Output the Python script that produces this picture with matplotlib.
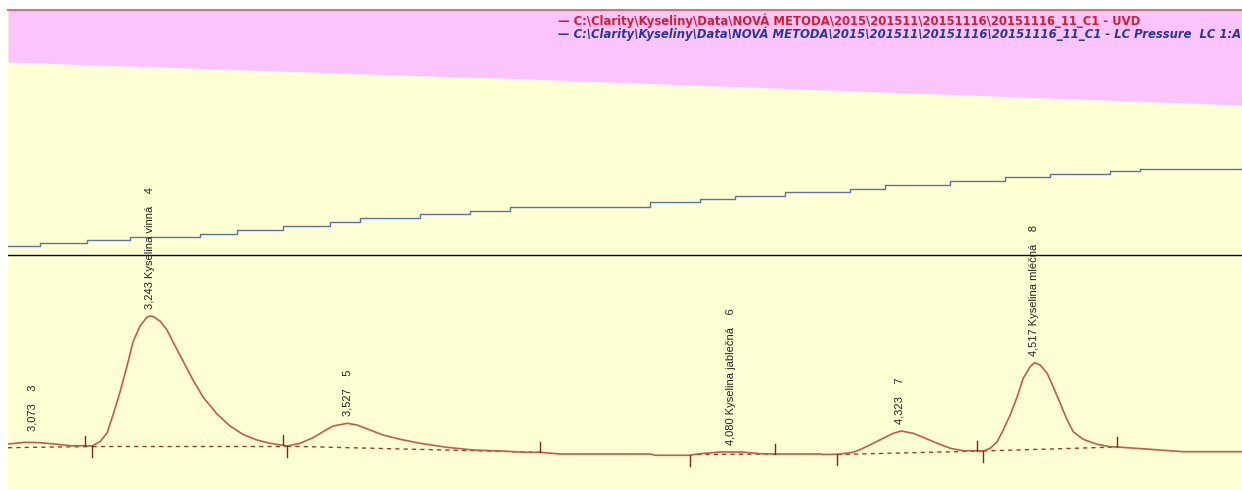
import matplotlib.pyplot as plt

# --- detector trace (UVD), time in min, signal in mV ---
uvd_time = [3.038, 3.0625, 3.0841, 3.1057, 3.1273, 3.149, 3.1591, 3.1706, 3.1807, 3.1893,
            3.1994, 3.2095, 3.2181, 3.2282, 3.2383, 3.243, 3.247, 3.257, 3.2671, 3.2758,
            3.2902, 3.3046, 3.319, 3.3392, 3.3579, 3.3767, 3.3968, 3.4156, 3.4343, 3.4401,
            3.4588, 3.4775, 3.4919, 3.5064, 3.527, 3.5409, 3.5597, 3.5784, 3.6029, 3.6317,
            3.6706, 3.7081, 3.747, 3.7859, 3.8047, 3.8335, 3.9632, 3.9704, 4.0208, 4.0309,
            4.0641, 4.0958, 4.1217, 4.1433, 4.2082, 4.2125, 4.2327, 4.2557, 4.2701, 4.2846,
            4.299, 4.3134, 4.325, 4.3422, 4.3566, 4.3768, 4.3955, 4.4143, 4.4344, 4.4431,
            4.4532, 4.4633, 4.4719, 4.482, 4.4921, 4.5007, 4.5108, 4.517, 4.5252, 4.5353,
            4.5439, 4.554, 4.5641, 4.5728, 4.5872, 4.6074, 4.6261, 4.6362, 4.6837, 4.7313,
            4.816]
uvd_signal = [4.0, 5.7, 5.3, 4.0, 2.3, 2.3, 2.0, 6.3, 15.0, 33.0,
              56.0, 82.0, 106.0, 122.0, 131.0, 132.0, 131.5, 127.0, 118.0, 106.0,
              87.0, 68.0, 51.0, 34.0, 22.0, 13.5, 8.0, 4.7, 2.7, 2.0,
              4.7, 10.3, 16.3, 22.0, 24.7, 23.0, 18.0, 13.0, 8.7, 4.7,
              0.7, -2.0, -3.0, -4.3, -4.3, -6.0, -6.0, -7.3, -7.3, -6.0,
              -4.0, -4.0, -5.7, -6.0, -6.0, -6.5, -6.3, -4.3, -0.3, 4.7,
              9.7, 14.7, 17.0, 14.7, 10.7, 4.7, -0.3, -2.7, -2.7, -3.0,
              -0.3, 6.3, 18.0, 33.0, 51.3, 69.7, 81.3, 85.3, 83.0, 74.7,
              61.3, 44.7, 28.0, 16.3, 8.7, 3.7, 1.3, 1.0, -1.3, -3.7,
              -3.7]

# --- LC pressure trace (stepped) ---
pres_time = [3.038, 3.0841, 3.1518, 3.2138, 3.3147, 3.368, 3.4343, 3.502, 3.5453, 3.6317,
             3.7038, 3.7614, 3.7758, 3.9632, 4.0352, 4.0857, 4.1577, 4.2514, 4.3018, 4.3955,
             4.4748, 4.5396, 4.6261, 4.6693, 4.816]
pres_value = [202.3, 204.7, 208.0, 210.7, 213.7, 218.0, 222.0, 225.7, 229.7, 234.0,
              237.5, 240.7, 241.3, 245.7, 248.7, 252.3, 255.7, 259.0, 263.0, 267.0,
              270.7, 274.0, 277.0, 279.3, 280.0]

# --- gradient boundary (pink area) ---
grad_time = [3.038, 3.603, 3.747, 4.816]
grad_value = [386.0, 373.0, 370.0, 343.0]

zero_line = 193.0

# --- integration baselines (start, end) ---
base_t0 = [3.038, 3.159, 3.440, 4.031, 4.233, 4.443]
base_y0 = [0.3, 1.8, 1.8, -6.5, -6.5, -3.0]
base_t1 = [3.159, 3.440, 3.805, 4.143, 4.443, 4.636]
base_y1 = [1.5, 1.8, -4.3, -6.0, -3.0, 1.0]

# --- peak start/end markers ---
mark_time = [3.149, 3.159, 3.434, 3.440, 3.805, 4.021, 4.143, 4.233, 4.434, 4.443, 4.636]
mark_level = [2.3, 2.0, 2.7, 2.0, -4.3, -7.3, -6.0, -6.3, -2.7, -3.0, 1.0]
mark_up = [True, False, True, False, True, False, True, False, True, False, True]

# --- peak labels ---
peak_time = [3.073, 3.243, 3.527, 4.080, 4.323, 4.517]
peak_height = [10.0, 132.0, 24.7, -4.0, 17.0, 85.3]
peak_name = ['', 'Kyselina vinná', '', 'Kyselina jablečná', '', 'Kyselina mléčná']
peak_no = [3, 4, 5, 6, 7, 8]

legend_uvd = '— C:\\Clarity\\Kyseliny\\Data\\NOVÁ METODA\\2015\\201511\\20151116\\20151116_11_C1 - UVD'
legend_pres = ('— C:\\Clarity\\Kyseliny\\Data\\NOVÁ METODA\\2015\\201511\\20151116\\'
               '20151116_11_C1 - LC Pressure  LC 1:A')

plt.rcParams['font.family'] = ['Liberation Sans', 'DejaVu Sans']

fig = plt.figure(figsize=(12.42, 4.9), dpi=100, facecolor='white')
ax = fig.add_axes([8 / 1242, 0, 1234 / 1242, 480 / 490])
ax.set_facecolor('#FFFFD4')
ax.set_xlim(3.038, 4.816)
ax.set_ylim(-42, 438)

ax.fill_between(grad_time, grad_value, 438, color='#FCC4FC', lw=0)
ax.axhline(zero_line, color='black', lw=1)
ax.plot(pres_time, pres_value, drawstyle='steps-post', color='#6070A8', lw=1.0)

for t0, y0, t1, y1 in zip(base_t0, base_y0, base_t1, base_y1):
    ax.plot([t0, t1], [y0, y1], color='#9A3A2A', lw=1, dashes=(3, 3))

ax.plot(uvd_time, uvd_signal, color='#C45A4C', lw=1.2)

for t, y, up in zip(mark_time, mark_level, mark_up):
    ax.plot([t, t], [y, y + 10] if up else [y, y - 11], color='#7A2A1A', lw=1)

for t, h, name, no in zip(peak_time, peak_height, peak_name, peak_no):
    label = f"{t:.3f}".replace('.', ',')
    if name:
        label += ' ' + name
    label += f"    {no}"
    ax.annotate(label, xy=(t, h), xytext=(0, 5), textcoords='offset points',
                rotation=90, ha='center', va='bottom', fontsize=8, color='#222222')

for side in ['left', 'right', 'bottom']:
    ax.spines[side].set_visible(False)
ax.spines['top'].set_color('#D86C8C')
ax.spines['top'].set_linewidth(1.5)
ax.set_xticks([])
ax.set_yticks([])

fig.text(558 / 1242, 1 - 21 / 490, legend_uvd, color='#D02030', fontsize=8.35,
         family='DejaVu Sans', fontweight='bold', va='center', ha='left')
fig.text(558 / 1242, 1 - 34 / 490, legend_pres, color='#2A3A90', fontsize=8.35,
         family='DejaVu Sans', fontweight='bold', style='italic', va='center', ha='left')

fig.savefig('out.png', dpi=100, facecolor='white')
